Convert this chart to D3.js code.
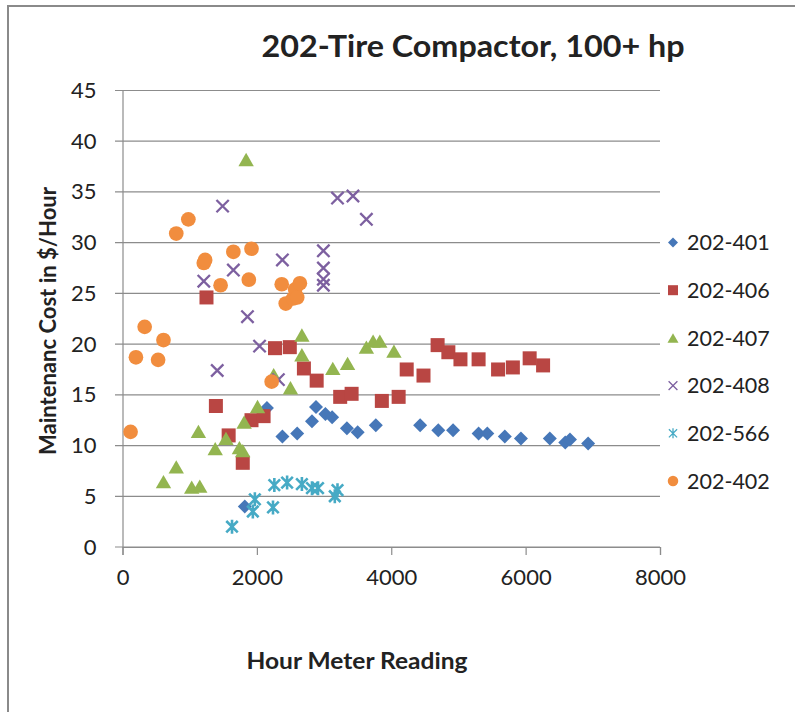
<!DOCTYPE html>
<html>
<head>
<meta charset="utf-8">
<script src="https://cdn.jsdelivr.net/npm/d3@7/dist/d3.min.js"></script>
<style>
  html, body { margin: 0; padding: 0; background: #fff; }
  svg { display: block; }
  text { font-family: Lato, "Open Sans", sans-serif; fill: #222; }
</style>
</head>
<body>
<svg id="chart" width="795" height="712"></svg>
<script>
// Hour meter readings and maintenance cost ($/hour) per unit
const hours401 = [1820, 2150, 2380, 2600, 2820, 2880, 3020, 3120, 3340, 3500, 3770, 4430, 4700, 4920, 5300, 5430, 5690, 5930, 6360, 6590, 6660, 6930];
const cost401  = [4.0, 13.7, 10.9, 11.2, 12.4, 13.8, 13.1, 12.8, 11.7, 11.3, 12.0, 12.0, 11.5, 11.5, 11.2, 11.2, 10.9, 10.7, 10.7, 10.3, 10.6, 10.2];

const hours406 = [1250, 1390, 1580, 1790, 1920, 2100, 2270, 2490, 2700, 2890, 3240, 3410, 3860, 4110, 4230, 4480, 4690, 4850, 5030, 5300, 5590, 5810, 6060, 6260];
const cost406  = [24.6, 13.9, 11.0, 8.3, 12.5, 12.9, 19.6, 19.7, 17.6, 16.4, 14.8, 15.1, 14.4, 14.8, 17.5, 16.9, 19.9, 19.2, 18.5, 18.5, 17.5, 17.7, 18.6, 17.9];

const hours407 = [610, 800, 1030, 1150, 1130, 1380, 1540, 1740, 1790, 1810, 1840, 2010, 2250, 2500, 2670, 2670, 3130, 3350, 3630, 3730, 3830, 4040];
const cost407  = [6.45, 7.9, 5.9, 6.0, 11.4, 9.7, 10.7, 9.8, 9.5, 12.3, 38.2, 13.85, 17.0, 15.7, 20.9, 18.95, 17.6, 18.1, 19.7, 20.3, 20.3, 19.3];

const hours408 = [1210, 1410, 1490, 1650, 1860, 2040, 2320, 2380, 2990, 2990, 2990, 2990, 3200, 3430, 3630];
const cost408  = [26.2, 17.4, 33.6, 27.3, 22.7, 19.8, 16.5, 28.3, 29.2, 27.5, 26.4, 25.8, 34.4, 34.6, 32.3];

const hours566 = [1630, 1940, 1970, 2240, 2260, 2450, 2670, 2820, 2910, 3160, 3200];
const cost566  = [2.0, 3.5, 4.7, 3.9, 6.1, 6.35, 6.2, 5.8, 5.8, 5.0, 5.6];

const hours402 = [120, 200, 330, 530, 610, 800, 980, 1210, 1230, 1460, 1650, 1880, 1920, 2220, 2370, 2430, 2540, 2570, 2600, 2640];
const cost402  = [11.35, 18.7, 21.7, 18.45, 20.4, 30.9, 32.3, 28.0, 28.3, 25.8, 29.1, 26.35, 29.4, 16.3, 25.9, 24.0, 24.5, 25.4, 24.6, 26.0];

const seriesNames = ["202-401", "202-406", "202-407", "202-408", "202-566", "202-402"];
const xTicks = [0, 2000, 4000, 6000, 8000];
const yTicks = [0, 5, 10, 15, 20, 25, 30, 35, 40, 45];
const chartTitle = "202-Tire Compactor, 100+ hp";
const xTitle = "Hour Meter Reading";
const yTitle = "Maintenanc Cost in $/Hour";

const series = [
  { name: seriesNames[0], xs: hours401, ys: cost401, shape: "diamond",  color: "#4677B8" },
  { name: seriesNames[1], xs: hours406, ys: cost406, shape: "square",   color: "#B94643" },
  { name: seriesNames[2], xs: hours407, ys: cost407, shape: "triangle", color: "#93B550" },
  { name: seriesNames[3], xs: hours408, ys: cost408, shape: "x",        color: "#7D60A0" },
  { name: seriesNames[4], xs: hours566, ys: cost566, shape: "star",     color: "#46AAC5" },
  { name: seriesNames[5], xs: hours402, ys: cost402, shape: "circle",   color: "#F18D3E" }
];

const svg = d3.select("#chart");
const gridColor = "#8c8c8c";

const x = d3.scaleLinear().domain([0, 8000]).range([122.5, 660]);
const y = d3.scaleLinear().domain([0, 45]).range([547, 90.5]);

// Outer frame of the chart area
svg.append("rect")
  .attr("x", 8).attr("y", 6).attr("width", 820).attr("height", 740)
  .attr("fill", "none").attr("stroke", "#8a8a8a").attr("stroke-width", 2);

// Horizontal gridlines (extend slightly left as tick marks)
svg.append("g").selectAll("line").data(yTicks).join("line")
  .attr("x1", 115).attr("x2", x(8000))
  .attr("y1", d => y(d)).attr("y2", d => y(d))
  .attr("stroke", gridColor).attr("stroke-width", 1.2);

// Y axis
const yAxis = svg.append("g").attr("transform", `translate(${x(0)},0)`)
  .call(d3.axisLeft(y).tickValues(yTicks).tickSize(0).tickPadding(26));
yAxis.select(".domain").attr("stroke", gridColor).attr("stroke-width", 1.2);
yAxis.selectAll("text").style("font-size", "22px").attr("fill", "#262626")
  .style("font-family", "Lato, sans-serif");

// X axis
const xAxis = svg.append("g").attr("transform", `translate(0,${y(0)})`)
  .call(d3.axisBottom(x).tickValues(xTicks).tickSize(8).tickPadding(14).tickFormat(d3.format("d")));
xAxis.select(".domain").attr("stroke", gridColor).attr("stroke-width", 1.2);
xAxis.selectAll(".tick line").attr("stroke", gridColor).attr("stroke-width", 1.2);
xAxis.selectAll("text").style("font-size", "22px").attr("fill", "#262626")
  .style("font-family", "Lato, sans-serif");

// Marker drawing
function drawMarker(g, shape, color, s) {
  const h = s / 2;
  const big = s > 11;
  if (shape === "diamond") {
    g.append("path").attr("d", `M0,${-h}L${h},0L0,${h}L${-h},0Z`).attr("fill", color);
  } else if (shape === "square") {
    g.append("rect").attr("x", -h).attr("y", -h).attr("width", s).attr("height", s).attr("fill", color);
  } else if (shape === "triangle") {
    const w = s * 1.1, t = s * 0.95;
    g.append("path").attr("d", `M0,${-t / 2}L${w / 2},${t / 2}L${-w / 2},${t / 2}Z`).attr("fill", color);
  } else if (shape === "circle") {
    g.append("circle").attr("r", h * 1.05).attr("fill", color);
  } else if (shape === "x") {
    const a = h * 0.88;
    g.append("path").attr("d", `M${-a},${-a}L${a},${a}M${-a},${a}L${a},${-a}`)
      .attr("stroke", color).attr("stroke-width", big ? 2.3 : 1.3).attr("fill", "none");
  } else if (shape === "star") {
    const a = h * 0.82;
    g.append("path").attr("d", `M${-a},${-a}L${a},${a}M${-a},${a}L${a},${-a}M0,${-h}L0,${h}`)
      .attr("stroke", color).attr("stroke-width", big ? 2.6 : 1.3).attr("fill", "none");
  }
}

// Data points, drawn series by series
const plot = svg.append("g");
series.forEach(sr => {
  const pts = sr.xs.map((v, i) => [v, sr.ys[i]]);
  plot.append("g").selectAll("g").data(pts).join("g")
    .attr("transform", d => `translate(${x(d[0])},${y(d[1])})`)
    .each(function () { drawMarker(d3.select(this), sr.shape, sr.color, 14); });
});

// Legend
const legend = svg.append("g");
series.forEach((sr, i) => {
  const ly = 242.5 + i * 47.7;
  const g = legend.append("g").attr("transform", `translate(673,${ly})`);
  drawMarker(g, sr.shape, sr.color, 10);
  legend.append("text").attr("x", 687).attr("y", ly).attr("dy", "0.36em")
    .style("font-size", "21.5px").attr("fill", "#262626").text(sr.name);
});

// Titles
svg.append("text").attr("x", 473).attr("y", 57)
  .attr("text-anchor", "middle")
  .attr("textLength", 423).attr("lengthAdjust", "spacingAndGlyphs")
  .style("font-size", "30px").style("font-weight", "bold").attr("fill", "#111")
  .text(chartTitle);

svg.append("text").attr("x", 357).attr("y", 669)
  .attr("text-anchor", "middle")
  .attr("textLength", 221).attr("lengthAdjust", "spacingAndGlyphs")
  .style("font-size", "22px").style("font-weight", "bold").attr("fill", "#111")
  .text(xTitle);

svg.append("text")
  .attr("transform", "translate(56,321) rotate(-90)")
  .attr("text-anchor", "middle")
  .attr("textLength", 268).attr("lengthAdjust", "spacingAndGlyphs")
  .style("font-size", "22px").style("font-weight", "bold").attr("fill", "#111")
  .text(yTitle);
</script>
</body>
</html>
